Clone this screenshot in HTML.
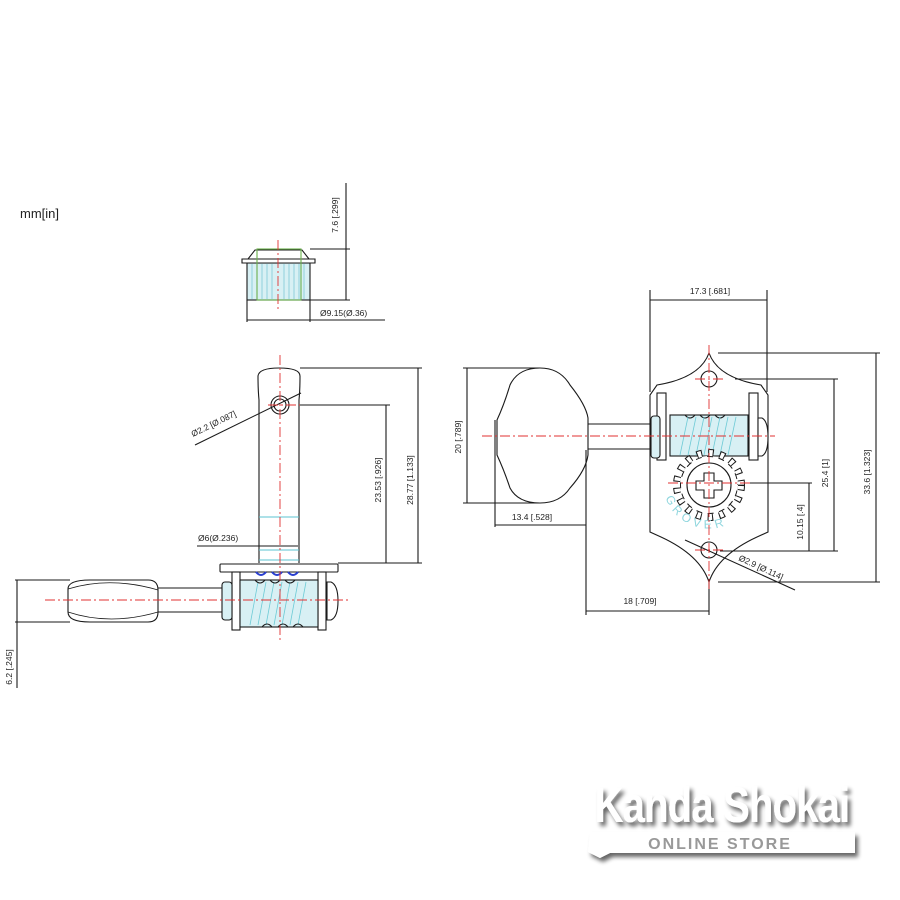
<!DOCTYPE html>
<html><head><meta charset="utf-8"><style>
html,body{margin:0;padding:0;background:#fff;width:900px;height:900px;overflow:hidden}
svg{display:block}
text{font-family:"Liberation Sans",sans-serif;font-size:8.5px;fill:#222}
</style></head><body>
<svg width="900" height="900" viewBox="0 0 900 900" xmlns="http://www.w3.org/2000/svg">
<defs>
<filter id="sh" x="-10%" y="-10%" width="130%" height="140%"><feGaussianBlur in="SourceAlpha" stdDeviation="2"/><feOffset dx="3" dy="4"/><feComponentTransfer><feFuncA type="linear" slope="0.6"/></feComponentTransfer><feMerge><feMergeNode/><feMergeNode in="SourceGraphic"/></feMerge></filter>
<path id="arc" d="M664 492 A46 46 0 0 0 754 492"/>
</defs>
<text x="20" y="218" style="font-size:13px">mm[in]</text>

<g fill="none" stroke="#1a1a1a" stroke-width="1.1">
<!-- top bushing -->
<rect x="247" y="263" width="63" height="37" fill="#d8f0f4"/>
<path d="M242 259 L315 259 L315 263 L242 263 Z" fill="#fff"/>
<path d="M248 259 L255 250 L302 250 L309 259"/>
<g stroke="#7fc9d5" stroke-width="0.8">
<line x1="252" y1="264" x2="252" y2="299"/><line x1="257" y1="264" x2="257" y2="299"/><line x1="262" y1="264" x2="262" y2="299"/><line x1="267" y1="264" x2="267" y2="299"/><line x1="272" y1="264" x2="272" y2="299"/><line x1="284" y1="264" x2="284" y2="299"/><line x1="289" y1="264" x2="289" y2="299"/><line x1="294" y1="264" x2="294" y2="299"/><line x1="299" y1="264" x2="299" y2="299"/><line x1="304" y1="264" x2="304" y2="299"/>
</g>
<rect x="257" y="249" width="44" height="51" stroke="#6ab04c"/>
<line x1="310" y1="249" x2="350" y2="249"/><line x1="310" y1="300" x2="350" y2="300"/>
<line x1="346" y1="183" x2="346" y2="300"/>
<line x1="247" y1="300" x2="247" y2="322"/><line x1="310" y1="300" x2="310" y2="322"/>
<line x1="247" y1="320" x2="385" y2="320"/>

<!-- left view post -->
<path d="M259 563 L259 400 Q258 390 258 376 Q259 368 279 368 Q300 368 300 376 Q300 390 299 400 L299 563"/>
<circle cx="280" cy="405" r="9"/><circle cx="280" cy="405" r="6"/>
<line x1="259" y1="517" x2="299" y2="517" stroke="#5bc3d0"/>
<line x1="259" y1="550" x2="299" y2="550" stroke="#5bc3d0"/>
<line x1="259" y1="560" x2="299" y2="560" stroke="#5bc3d0"/>
<rect x="220" y="564" width="118" height="8" rx="1"/>
<rect x="232" y="572" width="8" height="58"/>
<rect x="318" y="572" width="8" height="58"/>
<rect x="240" y="580" width="78" height="47" fill="#d8f0f4"/>
<g stroke="#6ecbd6" stroke-width="0.8"><path d="M250 625 L258 582 M258 625 L266 582 M266 625 L274 582 M274 625 L282 582 M282 625 L290 582 M290 625 L298 582 M298 625 L306 582"/></g>
<path d="M255 580 q5 6 10 0 M270 580 q5 6 10 0 M285 580 q5 6 10 0 M262 627 q5 -6 10 0 M278 627 q5 -6 10 0 M293 627 q5 -6 10 0"/>
<path d="M256 572 q5 6 10 0 M272 572 q5 6 10 0 M288 572 q5 6 10 0" stroke="#2a3fd0" stroke-width="2"/>
<rect x="222" y="582" width="10" height="38" rx="3" fill="#d8f0f4"/>
<path d="M327 582 L331 582 Q338 585 338 601 Q338 617 331 620 L327 620 Z" fill="#fff"/>
<line x1="158" y1="588" x2="222" y2="588"/><line x1="158" y1="612" x2="222" y2="612"/>
<path d="M68 589 Q68 580 90 580 L148 580 Q158 580 158 590 L158 612 Q158 622 148 622 L90 622 Q68 622 68 612 Z"/>
<path d="M68 589 Q110 576 158 590 M68 612 Q110 626 158 612" stroke-width="0.8"/>
<!-- left dims -->
<line x1="300" y1="368" x2="422" y2="368"/><line x1="418" y1="368" x2="418" y2="563"/>
<line x1="338" y1="563" x2="422" y2="563"/>
<line x1="300" y1="405" x2="390" y2="405"/><line x1="386" y1="405" x2="386" y2="563"/>
<line x1="195" y1="445" x2="301" y2="393"/>
<line x1="197" y1="546" x2="298" y2="546"/>
<line x1="15" y1="580" x2="70" y2="580"/><line x1="15" y1="622" x2="70" y2="622"/>
<line x1="17" y1="580" x2="17" y2="688"/>

<!-- right view -->
<path d="M709 353 Q700 378 657 385 L650 395 L650 532 L661 537 Q700 555 709 582 Q718 555 757 537 L768 532 L768 395 L761 385 Q718 378 709 353 Z"/>
<circle cx="709" cy="379" r="8"/><circle cx="709" cy="550" r="8"/>
<rect x="657" y="393" width="9" height="67"/><rect x="749" y="393" width="9" height="67"/>
<rect x="670" y="415" width="78" height="41" fill="#d8f0f4"/>
<path d="M685 415 q5 6 10 0 M700 415 q5 6 10 0 M715 415 q5 6 10 0"/>
<g stroke="#6ecbd6" stroke-width="0.8"><path d="M680 455 L688 417 M688 455 L696 417 M696 455 L704 417 M704 455 L712 417 M712 455 L720 417 M720 455 L728 417 M728 455 L736 417"/></g>
<rect x="651" y="416" width="9" height="42" rx="3" fill="#d8f0f4"/>
<path d="M758 418 L762 418 Q768 421 768 437 Q768 453 762 456 L758 456 Z" fill="#fff"/>
<line x1="588" y1="424" x2="651" y2="424"/><line x1="588" y1="449" x2="651" y2="449"/>
<path d="M588 418 Q586 405 570 385 Q560 368 540 368 Q518 368 510 385 Q504 405 497 420 L497 455 Q504 470 510 488 Q518 503 540 503 Q560 503 570 488 Q586 470 588 455 Z"/>
<circle cx="709" cy="485" r="22"/>
<path d="M704 473 L714 473 L714 481 L722 481 L722 490 L714 490 L714 498 L704 498 L704 490 L696 490 L696 481 L704 481 Z"/>
<!-- gear teeth -->
<circle cx="709" cy="485" r="32" stroke-dasharray="5.5 6.02" stroke-width="8"/>
<circle cx="709" cy="485" r="32" stroke-dasharray="3.5 8.02" stroke-dashoffset="-1" stroke-width="6" stroke="#fff"/>
<circle cx="709" cy="485" r="28" stroke="#fff" stroke-width="2"/>
<circle cx="709" cy="485" r="28.5" stroke-dasharray="6.02 5.5" stroke-dashoffset="-5.5" stroke-width="1"/>
<!-- right dims -->
<line x1="650" y1="290" x2="650" y2="392"/><line x1="767" y1="290" x2="767" y2="392"/>
<line x1="650" y1="300" x2="767" y2="300"/>
<line x1="463" y1="368" x2="540" y2="368"/><line x1="463" y1="503" x2="540" y2="503"/>
<line x1="467" y1="368" x2="467" y2="503"/>
<line x1="495" y1="420" x2="495" y2="527"/><line x1="586" y1="450" x2="586" y2="615"/>
<line x1="495" y1="525" x2="586" y2="525"/>
<line x1="709" y1="582" x2="709" y2="615"/>
<line x1="586" y1="611" x2="709" y2="611"/>
<line x1="718" y1="353" x2="880" y2="353"/><line x1="718" y1="582" x2="880" y2="582"/>
<line x1="876" y1="353" x2="876" y2="582"/>
<line x1="735" y1="379" x2="838" y2="379"/><line x1="720" y1="551" x2="838" y2="551"/>
<line x1="834" y1="379" x2="834" y2="551"/>
<line x1="750" y1="483" x2="812" y2="483"/><line x1="809" y1="483" x2="809" y2="551"/>
<line x1="685" y1="540" x2="795" y2="590"/>
</g>

<text style="font-size:12px;fill:#8fd6de;letter-spacing:4px"><textPath href="#arc" startOffset="6">GROVER</textPath></text>

<g stroke="#e03030" stroke-width="0.9" stroke-dasharray="10 3 2 3" fill="none">
<line x1="278" y1="240" x2="278" y2="312"/>
<line x1="280" y1="355" x2="280" y2="640"/>
<line x1="45" y1="600" x2="350" y2="600"/>
<line x1="268" y1="405" x2="300" y2="405"/>
<line x1="709" y1="345" x2="709" y2="592"/>
<line x1="482" y1="436" x2="775" y2="436"/>
<line x1="695" y1="379" x2="725" y2="379"/>
<line x1="668" y1="483" x2="752" y2="483"/>
<line x1="695" y1="550" x2="725" y2="550"/>
</g>

<text x="338" y="215" transform="rotate(-90 338 215)" text-anchor="middle">7.6 [.299]</text>
<text x="320" y="316">Ø9.15(Ø.36)</text>
<text x="193" y="437" transform="rotate(-26 193 437)">Ø2.2 [Ø.087]</text>
<text x="198" y="541">Ø6(Ø.236)</text>
<text x="381" y="480" transform="rotate(-90 381 480)" text-anchor="middle">23.53 [.926]</text>
<text x="413" y="480" transform="rotate(-90 413 480)" text-anchor="middle">28.77 [1.133]</text>
<text x="12" y="667" transform="rotate(-90 12 667)" text-anchor="middle">6.2 [.245]</text>
<text x="710" y="294" text-anchor="middle">17.3 [.681]</text>
<text x="461" y="437" transform="rotate(-90 461 437)" text-anchor="middle">20 [.789]</text>
<text x="532" y="520" text-anchor="middle">13.4 [.528]</text>
<text x="640" y="604" text-anchor="middle">18 [.709]</text>
<text x="828" y="473" transform="rotate(-90 828 473)" text-anchor="middle">25.4 [1]</text>
<text x="870" y="472" transform="rotate(-90 870 472)" text-anchor="middle">33.6 [1.323]</text>
<text x="803" y="522" transform="rotate(-90 803 522)" text-anchor="middle">10.15 [.4]</text>
<text x="738" y="560" transform="rotate(25 738 560)">Ø2.9 [Ø.114]</text>

<g filter="url(#sh)">
<text x="722" y="822" text-anchor="middle" style="font-size:50px;font-weight:bold;fill:#fff;letter-spacing:-1px" transform="translate(722 822) scale(0.8 1) translate(-722 -822)">Kanda Shokai</text>
<path d="M590 832 L855 832 L855 853 L610 853 L600 858 L588 852 Z" fill="#fff"/>
</g>
<text x="720" y="849" text-anchor="middle" style="font-size:16px;font-weight:bold;fill:#999;letter-spacing:2px">ONLINE STORE</text>
</svg>
</body></html>
